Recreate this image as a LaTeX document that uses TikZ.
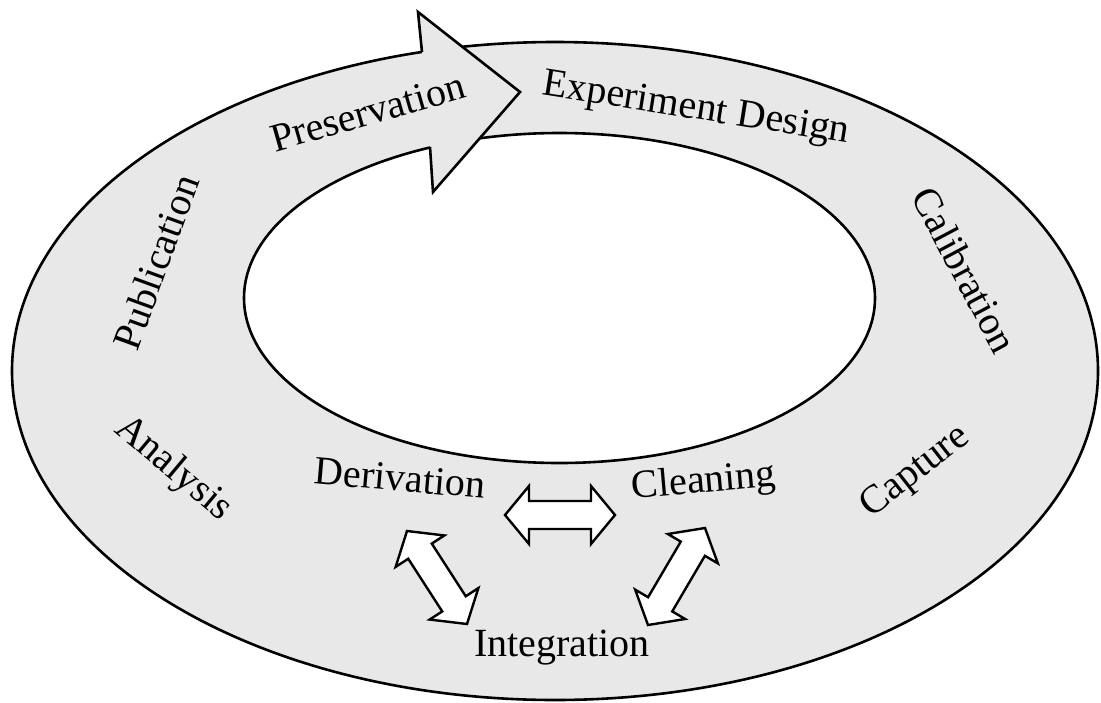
\documentclass[tikz,border=0pt]{standalone}
\usepackage{fontspec}
\setmainfont{Liberation Serif}
\usetikzlibrary{calc}
\definecolor{ringgray}{RGB}{232,232,232}
\tikzset{
  outline/.style={line width=2.6pt, draw=black, line join=miter},
  smallarr/.style={line width=2.4pt, draw=black, fill=white, line join=miter},
  lbl/.style={inner sep=0pt, font=\fontsize{40}{48}\selectfont, text=black}
}
\newcommand\dblarr[3]{%
  \path ($(#2)!24pt!(#3)$) coordinate (#1a) ($(#3)!24pt!(#2)$) coordinate (#1b);
  \draw[smallarr] (#2) -- ($(#1a)!29pt!90:(#3)$) -- ($(#1a)!14pt!90:(#3)$)
    -- ($(#1b)!14pt!-90:(#2)$) -- ($(#1b)!29pt!-90:(#2)$) -- (#3)
    -- ($(#1b)!29pt!90:(#2)$) -- ($(#1b)!14pt!90:(#2)$)
    -- ($(#1a)!14pt!-90:(#3)$) -- ($(#1a)!29pt!-90:(#3)$) -- cycle;}
\begin{document}
\begin{tikzpicture}[x=1pt,y=-1pt]
\useasboundingbox (0,0) rectangle (1101,702);
% ring
\fill[ringgray, even odd rule] (555,371) ellipse [x radius=543, y radius=329]
  (559.5,298) ellipse [x radius=315.5, y radius=165];
\draw[outline] (555,371) ellipse [x radius=543, y radius=329];
\draw[outline] (559.5,298) ellipse [x radius=315.5, y radius=165];
% big arrow head
\coordinate (hu) at (422,52);
\coordinate (hub) at (418,12);
\coordinate (htip) at (520,92);
\coordinate (hlb) at (433,192);
\coordinate (hl) at (430,147);
\fill[ringgray] (hu) -- (hub) -- (htip) -- (hlb) -- (hl) -- cycle;
\draw[outline] (hu) -- (hub) -- (htip) -- (hlb) -- (hl);
% labels
\node[lbl, rotate=16] (pres) at (368,112) {Preservation};
\node[lbl, rotate=-9] (exp) at (696,110) {Experiment Design};
\node[lbl, rotate=-62] (cal) at (965,270) {Calibration};
\node[lbl, rotate=38] (cap) at (916,472) {Capture};
\node[lbl, rotate=-40] (ana) at (173,469) {Analysis};
\node[lbl, rotate=70] (pub) at (156,262) {Publication};
\node[lbl, rotate=-5] (der) at (400,478) {Derivation};
\node[lbl, rotate=5] (cle) at (704,483) {Cleaning};
\node[lbl] (int) at (562,648) {Integration};
% small double arrows
\coordinate (h1) at (505,515);
\coordinate (h2) at (615,515);
\coordinate (l1) at (407,531);
\coordinate (l2) at (467,624);
\coordinate (r1) at (705,528);
\coordinate (r2) at (648,625);
\dblarr{ha}{h1}{h2}
\dblarr{la}{l1}{l2}
\dblarr{ra}{r1}{r2}
\end{tikzpicture}
\end{document}
